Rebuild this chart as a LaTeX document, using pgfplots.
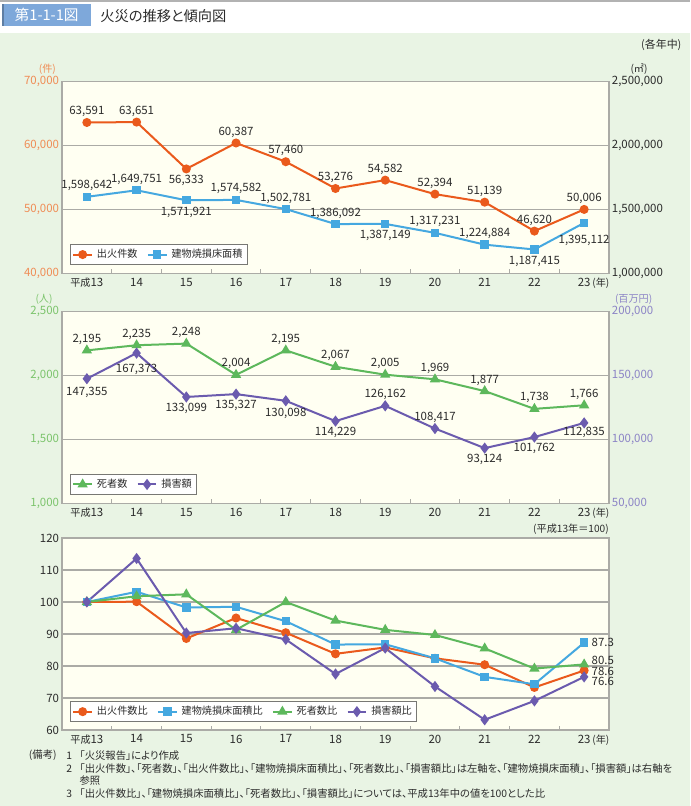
\documentclass[border=0pt]{standalone}
\usepackage{pgfplots}
\pgfplotsset{compat=1.18}
\usepackage{pgfplotstable}
\usepackage{fontspec}
\setmainfont{Noto Sans CJK JP}[RawFeature=+palt]

\definecolor{cOr}{HTML}{EA5A1C}
\definecolor{cBl}{HTML}{45A8E0}
\definecolor{cGr}{HTML}{5DB85C}
\definecolor{cPu}{HTML}{6B5BAE}
\definecolor{tOr}{HTML}{F08C55}
\definecolor{tGr}{HTML}{7CC46C}
\definecolor{tPu}{HTML}{8C84C6}
\definecolor{panel}{HTML}{E9F4E4}
\definecolor{plotbg}{HTML}{FFFFF2}
\definecolor{gridc}{HTML}{ABABA6}
\definecolor{txt}{HTML}{2B2B2B}
\definecolor{titleblue}{HTML}{7EA8DA}

\newcommand{\tf}{\fontsize{8.6}{10}\selectfont}
\newcommand{\jf}{\fontsize{7.6}{9}\selectfont}
\newcommand{\nf}{\fontsize{7.75}{9}\selectfont}

\pgfplotstableread{
x y lab dy
0 63591 63,591 8.25
1 63651 63,651 8.25
2 56333 56,333 -9
3 60387 60,387 8.25
4 57460 57,460 8.25
5 53276 53,276 8.25
6 54582 54,582 8.25
7 52394 52,394 8.25
8 51139 51,139 8.25
9 46620 46,620 8.25
10 50006 50,006 8.25
}\tabOr

\pgfplotstableread{
x y lab dy
0 1598642 1,598,642 8.25
1 1649751 1,649,751 8.25
2 1571921 1,571,921 -9
3 1574582 1,574,582 8.25
4 1502781 1,502,781 8.25
5 1386092 1,386,092 8.25
6 1387149 1,387,149 -9
7 1317231 1,317,231 8.25
8 1224884 1,224,884 8.25
9 1187415 1,187,415 -9
10 1395112 1,395,112 -13.5
}\tabBl

\pgfplotstableread{
x y lab dy
0 2195 2,195 8.25
1 2235 2,235 8.25
2 2248 2,248 8.25
3 2004 2,004 8.25
4 2195 2,195 8.25
5 2067 2,067 8.25
6 2005 2,005 8.25
7 1969 1,969 8.25
8 1877 1,877 8.25
9 1738 1,738 8.25
10 1766 1,766 8.25
}\tabGr

\pgfplotstableread{
x y lab dy
0 147355 147,355 -10.25
1 167373 167,373 -12.25
2 133099 133,099 -8.5
3 135327 135,327 -8.5
4 130098 130,098 -9.25
5 114229 114,229 -8.25
6 126162 126,162 8.75
7 108417 108,417 8.5
8 93124 93,124 -8.5
9 101762 101,762 -8.75
10 112835 112,835 -7
}\tabPu

\pgfplotstableread{
x ia ib ic id
0 100.0 100.0 100.0 100.0
1 100.1 103.2 101.8 113.6
2 88.6 98.3 102.4 90.3
3 95.0 98.5 91.3 91.8
4 90.4 94.0 100.0 88.3
5 83.8 86.7 94.2 77.5
6 85.8 86.8 91.3 85.6
7 82.4 82.4 89.7 73.6
8 80.4 76.6 85.5 63.2
9 73.3 74.3 79.2 69.1
10 78.6 87.3 80.5 76.6
}\tabIdx

\pgfplotstableread{
x y lab dy
10 87.3 87.3 0
10 80.5 80.5 2.75
10 78.6 78.6 -0.75
10 76.6 76.6 -3.75
}\tabIdxLab

\pgfplotsset{
  base/.style={scale only axis, width=410.25pt, height=144pt,
    xmin=-0.5, xmax=10.5, clip=false, anchor=south west,
    /pgf/number format/assume math mode=true,
    major tick length=0pt, minor tick length=3pt, tick align=inside,
    tick style={gridc, line width=0.8pt},
    axis line style={gridc, line width=0.8pt},
    ticklabel style={font=\tf, text=txt},
    yticklabel style={inner sep=2pt},
    scaled y ticks=false,
    legend image code/.code={\draw[mark repeat=2,mark phase=2,##1] plot coordinates {(0pt,0pt) (7pt,0pt) (14pt,0pt)};},
    legend style={font=\jf, text=txt, draw=gridc!70!black, line width=0.5pt, fill=white,
      inner sep=1.5pt, at={(0.0146,0.045)}, anchor=south west,
      /tikz/every even column/.append style={column sep=5pt},
      /tikz/every odd column/.append style={column sep=1pt}},
    legend columns=-1, legend cell align=left},
  leftax/.style={base, axis background/.style={fill=plotbg},
    ymajorgrids, grid style={gridc, line width=1pt},
    xtick={0,...,10},
    xticklabels={{\jf 平成}13,14,15,16,17,18,19,20,21,22,23\rlap{\,\jf(年)}},
    minor xtick={0.5,1.5,...,9.5}, xtick pos=bottom, ytick pos=left},
  rightax/.style={base, axis x line=none, axis y line*=right},
  lab/.style={nodes near coords, point meta=explicit symbolic,
    visualization depends on={\thisrow{dy} \as \dy},
    every node near coord/.append style={font=\tf, text=txt, anchor=center, yshift=\dy pt, inner sep=0pt}},
  lor/.style={cOr, line width=1.5pt, mark=*, mark size=2.6pt, mark options={solid, fill=cOr}},
  lbl/.style={cBl, line width=1.5pt, mark=square*, mark size=2.4pt, mark options={solid, fill=cBl}},
  lgr/.style={cGr, line width=1.5pt, mark=triangle*, mark size=3pt, mark options={solid, fill=cGr}},
  lpu/.style={cPu, line width=1.5pt, mark=diamond*, mark size=3pt, mark options={solid, fill=cPu}},
}

\begin{document}
\begin{tikzpicture}
\path[use as bounding box] (0,0) rectangle (517.5pt,604.5pt);
\fill[panel] (0,0) rectangle (517.5pt,579.75pt);
\draw[gray!60, line width=1.5pt] (0,603.5pt) -- (517.5pt,603.5pt);
\fill[titleblue] (1.5pt,585pt) rectangle (68.25pt,601.5pt);
\fill[titleblue!75!black] (1.5pt,585pt) rectangle (3pt,601.5pt);
\node[text=white, font=\fontsize{11}{12}\selectfont] at (35pt,593.25pt) {第1-1-1図};
\node[anchor=west, text=txt, font=\fontsize{10.7}{12}\selectfont, inner sep=0pt] at (75pt,592.5pt) {火災の推移と傾向図};
\node[font=\fontsize{8.2}{10}\selectfont, text=txt] at (496pt,570.75pt) {(各年中)};

% ---------- chart 1 ----------
\begin{axis}[leftax, at={(46.5pt,399.4pt)},
  ymin=40000, ymax=70000, ytick={40000,50000,60000,70000},
  yticklabels={{40,000},{50,000},{60,000},{70,000}},
  yticklabel style={text=tOr}]
\addplot[lor, lab] table[x=x, y=y, meta=lab] {\tabOr};
\node[text=tOr, font=\jf, xshift=-11pt, yshift=9pt] at (rel axis cs:0,1) {(件)};
\end{axis}
\begin{axis}[rightax, at={(46.5pt,399.4pt)},
  ymin=1000000, ymax=2500000, ytick={1000000,1500000,2000000,2500000},
  yticklabels={{1,000,000},{1,500,000},{2,000,000},{2,500,000}}]
\addlegendimage{lor}
\addlegendimage{lbl}
\addplot[lbl, lab, forget plot] table[x=x, y=y, meta=lab] {\tabBl};
\legend{出火件数,建物焼損床面積}
\node[text=txt, font=\jf, xshift=22.5pt, yshift=9pt] at (rel axis cs:1,1) {(㎡)};
\end{axis}

% ---------- chart 2 ----------
\begin{axis}[leftax, at={(46.5pt,227pt)},
  ymin=1000, ymax=2500, ytick={1000,1500,2000,2500},
  yticklabels={{1,000},{1,500},{2,000},{2,500}},
  yticklabel style={text=tGr}]
\addplot[lgr, lab] table[x=x, y=y, meta=lab] {\tabGr};
\node[text=tGr, font=\jf, xshift=-13.5pt, yshift=9pt] at (rel axis cs:0,1) {(人)};
\end{axis}
\begin{axis}[rightax, at={(46.5pt,227pt)},
  ymin=50000, ymax=200000, ytick={50000,100000,150000,200000},
  yticklabels={{50,000},{100,000},{150,000},{200,000}},
  yticklabel style={text=tPu}]
\addlegendimage{lgr}
\addlegendimage{lpu}
\addplot[lpu, lab, forget plot] table[x=x, y=y, meta=lab] {\tabPu};
\legend{死者数,損害額}
\node[text=tPu, font=\jf, anchor=west, xshift=1pt, yshift=9pt] at (rel axis cs:1,1) {(百万円)};
\end{axis}

% ---------- chart 3 ----------
\begin{axis}[leftax, at={(46.5pt,57pt)},
  ymin=60, ymax=120, ytick={60,70,...,120},
  legend style={at={(0.0146,0.042)}}]
\addplot[lor] table[x=x, y=ia] {\tabIdx};
\addplot[lbl] table[x=x, y=ib] {\tabIdx};
\addplot[lgr] table[x=x, y=ic] {\tabIdx};
\addplot[lpu] table[x=x, y=id] {\tabIdx};
\legend{出火件数比,建物焼損床面積比,死者数比,損害額比}
\addplot[draw=none, mark=none, forget plot, nodes near coords, point meta=explicit symbolic,
  visualization depends on={\thisrow{dy} \as \dy},
  every node near coord/.append style={font=\tf, text=txt, anchor=west, xshift=5.5pt, yshift=\dy pt, inner sep=0pt}]
  table[x=x, y=y, meta=lab] {\tabIdxLab};
\node[text=txt, font=\jf, anchor=east, yshift=6.75pt, inner sep=0pt] at (rel axis cs:1,1) {(平成13年＝100)};
\end{axis}

% ---------- notes ----------
\node[anchor=west, inner sep=0pt, font=\nf, text=txt] at (21.5pt,38pt) {(備考)};
\node[inner sep=0pt, font=\nf, text=txt] at (52pt,38pt) {1};
\node[anchor=west, inner sep=0pt, font=\nf, text=txt] at (59.5pt,38pt) {「火災報告」により作成};
\node[inner sep=0pt, font=\nf, text=txt] at (52pt,28.3pt) {2};
\node[anchor=west, inner sep=0pt, font=\nf, text=txt] at (59.5pt,28.3pt) {「出火件数」、「死者数」、「出火件数比」、「建物焼損床面積比」、「死者数比」、「損害額比」は左軸を、「建物焼損床面積」、「損害額」は右軸を};
\node[anchor=west, inner sep=0pt, font=\nf, text=txt] at (59.5pt,19pt) {参照};
\node[inner sep=0pt, font=\nf, text=txt] at (52pt,9.5pt) {3};
\node[anchor=west, inner sep=0pt, font=\nf, text=txt] at (59.5pt,9.5pt) {「出火件数比」、「建物焼損床面積比」、「死者数比」、「損害額比」については、平成13年中の値を100とした比};
\end{tikzpicture}
\end{document}
